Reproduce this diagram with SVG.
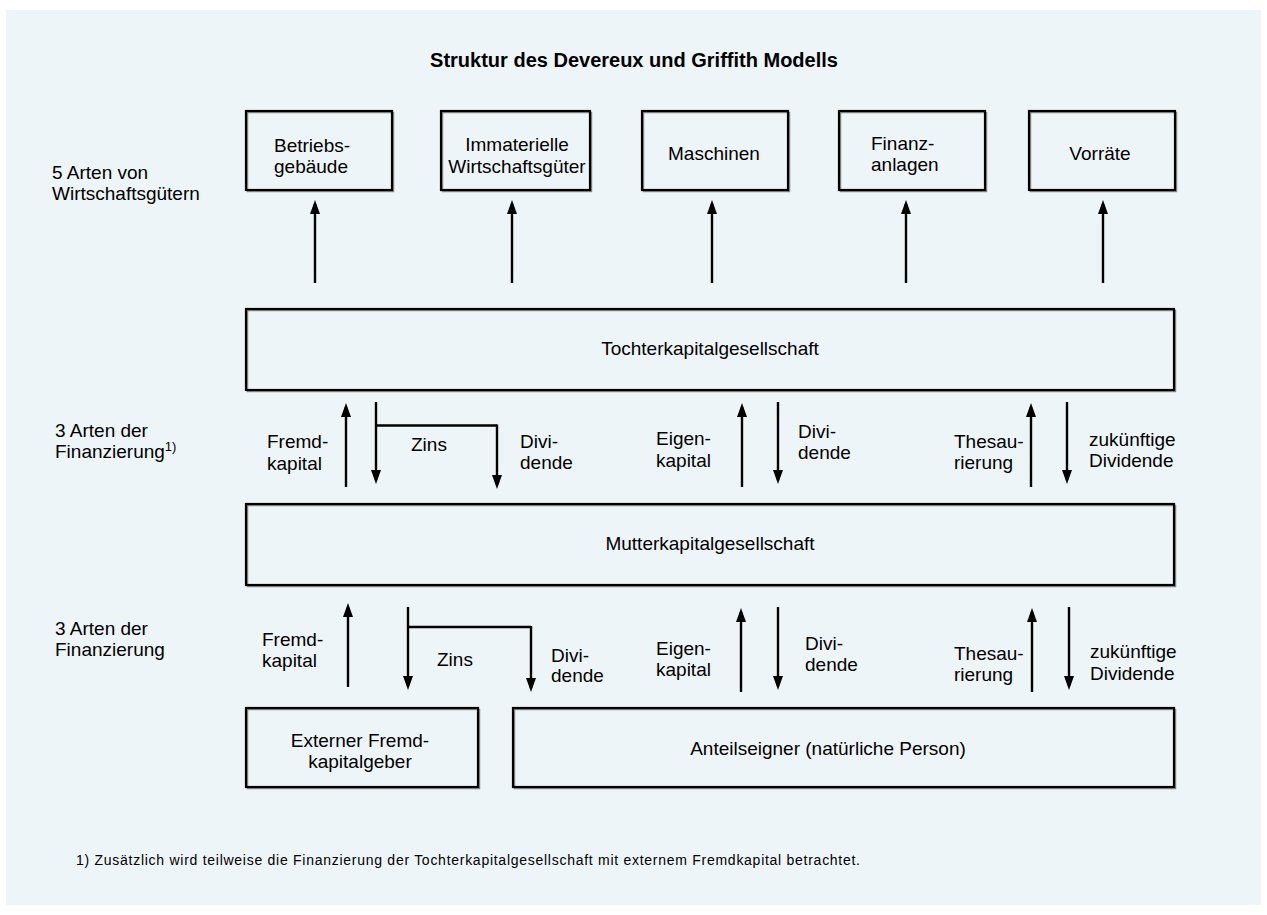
<svg xmlns="http://www.w3.org/2000/svg" width="1267" height="915" viewBox="0 0 1267 915">
<defs>
<style>
.t{font-family:"Liberation Sans",Arial,sans-serif;font-size:19px;fill:#000}
.c{text-anchor:middle}
.b{font-weight:bold;font-size:20px}
.fn{font-family:"Liberation Sans",Arial,sans-serif;font-size:14px;fill:#000}
.box{fill:none;stroke:#000;stroke-width:2.2}
.sh{fill:none;stroke:#8a8a8a;stroke-width:1.5}
.ln{fill:none;stroke:#000;stroke-width:2.4}
.ar{fill:none;stroke:#000;stroke-width:2.4;marker-end:url(#ah)}
</style>
<marker id="ah" viewBox="0 0 14 10" refX="10" refY="5" markerWidth="14" markerHeight="10" markerUnits="userSpaceOnUse" orient="auto">
<path d="M0,0 L14,5 L0,10 z" fill="#000"/>
</marker>
</defs>
<rect x="0" y="0" width="1267" height="915" fill="#ffffff"/>
<rect x="6" y="10" width="1255" height="895" fill="#EEF5F8"/>
<text class="t b c" x="634" y="67">Struktur des Devereux und Griffith Modells</text>

<g id="label-wirtschaftsgueter">
<text class="t" x="52" y="179">5 Arten von</text>
<text class="t" x="52" y="200">Wirtschaftsgütern</text>
</g>
<g id="label-finanzierung1">
<text class="t" x="55" y="437">3 Arten der</text>
<text class="t" x="55" y="458">Finanzierung<tspan font-size="13" dy="-7">1)</tspan></text>
</g>
<g id="label-finanzierung2">
<text class="t" x="55" y="635">3 Arten der</text>
<text class="t" x="55" y="656">Finanzierung</text>
</g>

<g id="node-betriebsgebaeude">
<rect class="sh" x="247.5" y="112.5" width="146" height="79"/>
<rect class="box" x="246" y="111" width="146" height="79"/>
<text class="t" x="274" y="151.5">Betriebs-</text>
<text class="t" x="274" y="172.5">gebäude</text>
</g>
<g id="node-immaterielle">
<rect class="sh" x="442.5" y="112.5" width="149" height="79"/>
<rect class="box" x="441" y="111" width="149" height="79"/>
<text class="t c" x="517" y="151">Immaterielle</text>
<text class="t c" x="517" y="172.5">Wirtschaftsgüter</text>
</g>
<g id="node-maschinen">
<rect class="sh" x="643.5" y="112.5" width="146" height="79"/>
<rect class="box" x="642" y="111" width="146" height="79"/>
<text class="t c" x="714" y="160">Maschinen</text>
</g>
<g id="node-finanzanlagen">
<rect class="sh" x="840.5" y="112.5" width="146" height="79"/>
<rect class="box" x="839" y="111" width="146" height="79"/>
<text class="t" x="871" y="149.5">Finanz-</text>
<text class="t" x="871" y="171">anlagen</text>
</g>
<g id="node-vorraete">
<rect class="sh" x="1030.5" y="112.5" width="146" height="79"/>
<rect class="box" x="1029" y="111" width="146" height="79"/>
<text class="t c" x="1100" y="160">Vorräte</text>
</g>

<g id="node-tochter">
<rect class="sh" x="247.5" y="310.5" width="928" height="81"/>
<rect class="box" x="246" y="309" width="928" height="81"/>
<text class="t c" x="710" y="355">Tochterkapitalgesellschaft</text>
</g>
<g id="node-mutter">
<rect class="sh" x="247.5" y="505.5" width="928" height="81"/>
<rect class="box" x="246" y="504" width="928" height="81"/>
<text class="t c" x="710" y="550">Mutterkapitalgesellschaft</text>
</g>
<g id="node-extern">
<rect class="sh" x="247.5" y="709.5" width="232" height="79"/>
<rect class="box" x="246" y="708" width="232" height="79"/>
<text class="t c" x="360" y="747">Externer Fremd-</text>
<text class="t c" x="360" y="768">kapitalgeber</text>
</g>
<g id="node-anteilseigner">
<rect class="sh" x="514.5" y="709.5" width="661" height="79"/>
<rect class="box" x="513" y="708" width="661" height="79"/>
<text class="t c" x="828" y="755">Anteilseigner (natürliche Person)</text>
</g>

<g id="connectors">
<line class="ar" x1="315" y1="283" x2="315" y2="204"/>
<line class="ar" x1="512" y1="283" x2="512" y2="204"/>
<line class="ar" x1="712" y1="283" x2="712" y2="204"/>
<line class="ar" x1="906" y1="283" x2="906" y2="204"/>
<line class="ar" x1="1103" y1="283" x2="1103" y2="204"/>

<line class="ar" x1="346" y1="487" x2="346" y2="407"/>
<line class="ar" x1="376" y1="402" x2="376" y2="480"/>
<polyline class="ln" points="376,425.5 497,425.5"/>
<line class="ar" x1="497" y1="424.5" x2="497" y2="485"/>
<line class="ar" x1="742" y1="487" x2="742" y2="407"/>
<line class="ar" x1="778" y1="402" x2="778" y2="480"/>
<line class="ar" x1="1031" y1="487" x2="1031" y2="407"/>
<line class="ar" x1="1067" y1="402" x2="1067" y2="480"/>

<line class="ar" x1="348" y1="687" x2="348" y2="607"/>
<line class="ar" x1="408" y1="607" x2="408" y2="686"/>
<polyline class="ln" points="408,627 531,627"/>
<line class="ar" x1="531" y1="626" x2="531" y2="688"/>
<line class="ar" x1="741" y1="692" x2="741" y2="612"/>
<line class="ar" x1="778" y1="607" x2="778" y2="686"/>
<line class="ar" x1="1032" y1="692" x2="1032" y2="612"/>
<line class="ar" x1="1069" y1="607" x2="1069" y2="686"/>
</g>

<g id="labels-mid">
<text class="t" x="267" y="448">Fremd-</text>
<text class="t" x="267" y="470">kapital</text>
<text class="t" x="411" y="451">Zins</text>
<text class="t" x="520" y="448">Divi-</text>
<text class="t" x="520" y="469">dende</text>
<text class="t" x="656" y="445">Eigen-</text>
<text class="t" x="656" y="467">kapital</text>
<text class="t" x="798" y="438">Divi-</text>
<text class="t" x="798" y="459">dende</text>
<text class="t" x="954" y="448">Thesau-</text>
<text class="t" x="954" y="469">rierung</text>
<text class="t" x="1089" y="446">zukünftige</text>
<text class="t" x="1089" y="467">Dividende</text>
</g>
<g id="labels-bottom">
<text class="t" x="262" y="646">Fremd-</text>
<text class="t" x="262" y="667">kapital</text>
<text class="t" x="437" y="666">Zins</text>
<text class="t" x="551" y="662">Divi-</text>
<text class="t" x="551" y="682">dende</text>
<text class="t" x="656" y="655">Eigen-</text>
<text class="t" x="656" y="676">kapital</text>
<text class="t" x="805" y="650">Divi-</text>
<text class="t" x="805" y="671">dende</text>
<text class="t" x="954" y="660">Thesau-</text>
<text class="t" x="954" y="681">rierung</text>
<text class="t" x="1090" y="658">zukünftige</text>
<text class="t" x="1090" y="680">Dividende</text>
</g>

<text class="fn" x="76" y="865" textLength="784" lengthAdjust="spacing">1) Zusätzlich wird teilweise die Finanzierung der Tochterkapitalgesellschaft mit externem Fremdkapital betrachtet.</text>
</svg>
